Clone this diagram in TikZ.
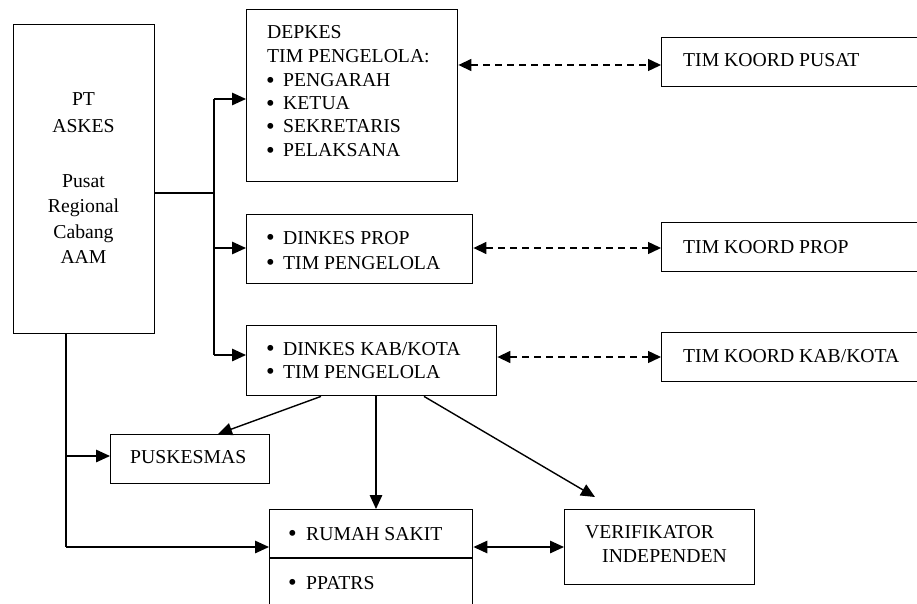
\documentclass[tikz,border=0pt]{standalone}
\usepackage{fontspec}
\setmainfont{Liberation Serif}
\usetikzlibrary{arrows.meta}
\newcommand{\bul}[1]{\makebox[#1][l]{\raisebox{-1.6pt}[0pt][0pt]{\scalebox{1.25}{•}}}}
\begin{document}
\begin{tikzpicture}[x=1pt,y=-1pt,
  box/.style={draw, line width=1.4pt, inner sep=0pt, anchor=north west},
  txt/.style={inner sep=0pt, anchor=base west, font=\fontsize{19.7}{23}\selectfont},
  ctxt/.style={inner sep=0pt, anchor=base, font=\fontsize{19.7}{23}\selectfont},
  plain/.style={line width=1.4pt},
  conn/.style={line width=1.4pt, -{Triangle[length=14pt,width=12.5pt]}},
  dconn/.style={line width=1.4pt, dash pattern=on 7pt off 5pt, {Triangle[length=13pt,width=12pt]}-{Triangle[length=13pt,width=12pt]}},
  biconn/.style={line width=1.4pt, {Triangle[length=14pt,width=12.5pt]}-{Triangle[length=14pt,width=12.5pt]}},
]
\useasboundingbox (0,0) rectangle (917,604);
\clip (0,0) rectangle (917,604);

% boxes
\node[box, minimum width=141pt, minimum height=309pt] (pt) at (13,24) {};
\node[box, minimum width=211pt, minimum height=172pt] (depkes) at (246,9) {};
\node[box, minimum width=226pt, minimum height=69pt] (prop) at (246,214) {};
\node[box, minimum width=250pt, minimum height=70pt] (kab) at (246,325) {};
\node[box, minimum width=280pt, minimum height=49pt] (kpusat) at (661,37) {};
\node[box, minimum width=280pt, minimum height=49pt] (kprop) at (661,222) {};
\node[box, minimum width=280pt, minimum height=49pt] (kkab) at (661,332) {};
\node[box, minimum width=159pt, minimum height=49pt] (pusk) at (110,434) {};
\node[box, minimum width=203pt, minimum height=120pt] (rs) at (269,509) {};
\node[box, minimum width=190pt, minimum height=75pt] (verif) at (564,509) {};
\draw[plain] (rs.west |- {(0,558)}) -- (rs.east |- {(0,558)});

% texts
\node[ctxt] (pt1) at (83.5,106) {PT};
\node[ctxt] (pt2) at (83.5,133) {ASKES};
\node[ctxt] (pt3) at (83.5,187) {Pusat};
\node[ctxt] (pt4) at (83.5,212) {Regional};
\node[ctxt] (pt5) at (83.5,238) {Cabang};
\node[ctxt] (pt6) at (83.5,263) {AAM};

\node[txt] (d1) at (267,39) {DEPKES};
\node[txt] (d2) at (267,63) {TIM PENGELOLA:};
\node[txt] (d3) at (266,87) {\bul{17pt}PENGARAH};
\node[txt] (d4) at (266,110) {\bul{17pt}KETUA};
\node[txt] (d5) at (266,133) {\bul{17pt}SEKRETARIS};
\node[txt] (d6) at (266,157) {\bul{17pt}PELAKSANA};

\node[txt] (p1) at (266,244) {\bul{17pt}DINKES PROP};
\node[txt] (p2) at (266,269) {\bul{17pt}TIM PENGELOLA};

\node[txt] (k1) at (266,355) {\bul{17pt}DINKES KAB/KOTA};
\node[txt] (k2) at (266,378) {\bul{17pt}TIM PENGELOLA};

\node[txt] (t1) at (683,67) {TIM KOORD PUSAT};
\node[txt] (t2) at (683,253) {TIM KOORD PROP};
\node[txt] (t3) at (683,362) {TIM KOORD KAB/KOTA};

\node[txt] (u1) at (130,463) {PUSKESMAS};
\node[txt] (r1) at (288,540) {\bul{18pt}RUMAH SAKIT};
\node[txt] (r2) at (288,589) {\bul{18pt}PPATRS};
\node[txt] (v1) at (585,538) {VERIFIKATOR};
\node[txt] (v2) at (602,562) {INDEPENDEN};

% connectors
\coordinate (bj) at (214,193);
\coordinate (bt) at (214,99);
\coordinate (bp) at (214,248);
\coordinate (bb) at (214,355);
\draw[plain] (pt.east |- bj) -- (bj);
\draw[plain] (bt) -- (bb);
\draw[conn] (bt) -- (depkes.west |- bt);
\draw[conn] (bp) -- (prop.west |- bp);
\draw[conn] (bb) -- (kab.west |- bb);

\coordinate (l1) at (66,456);
\coordinate (l2) at (66,547);
\draw[plain] (pt.south -| l1) -- (l2);
\draw[conn] (l1) -- (pusk.west |- l1);
\draw[conn] (l2) -- (rs.west |- l2);

\coordinate (vt) at (595,497);
\draw[conn] (kab.south -| {(321,0)}) -- (pusk.north -| {(218,0)});
\draw[conn] (kab.south -| {(376,0)}) -- (rs.north -| {(376,0)});
\draw[conn] (kab.south -| {(424,0)}) -- (vt);

\draw[dconn] (depkes.east |- {(0,65)}) -- (kpusat.west |- {(0,65)});
\draw[dconn] (prop.east |- {(0,248)}) -- (kprop.west |- {(0,248)});
\draw[dconn] (kab.east |- {(0,357)}) -- (kkab.west |- {(0,357)});
\draw[biconn] (rs.east |- l2) -- (verif.west |- l2);
\end{tikzpicture}
\end{document}
